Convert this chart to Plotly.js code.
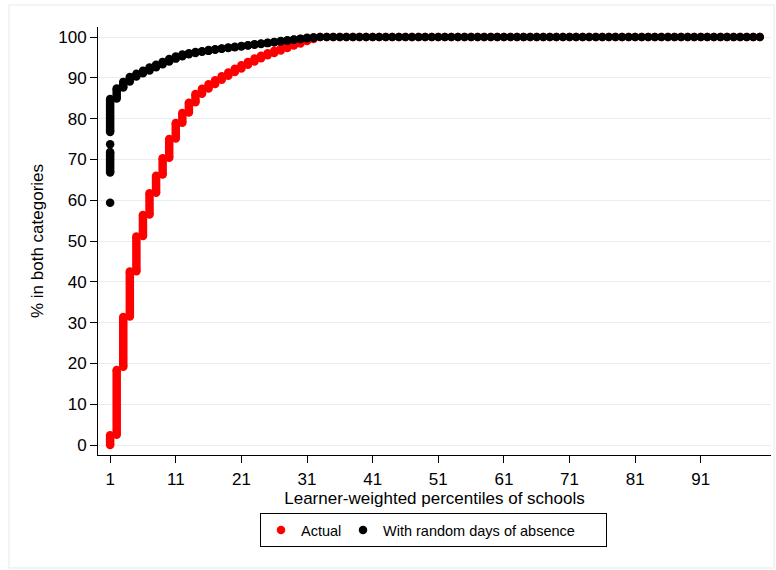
<!DOCTYPE html>
<html><head><meta charset="utf-8">
<script src="https://cdn.plot.ly/plotly-3.0.1.min.js"></script>
<style>html,body{margin:0;padding:0;background:#fff}#chart{width:776px;height:570px}</style>
</head><body><div id="chart"></div>
<script>
// Learner-weighted percentiles (x categories)
const percentiles = [1,2,3,4,5,6,7,8,9,10,11,12,13,14,15,16,17,18,19,20,21,22,23,24,25,26,27,28,29,30,31,32,33,34,35,36,37,38,39,40,41,42,43,44,45,46,47,48,49,50,51,52,53,54,55,56,57,58,59,60,61,62,63,64,65,66,67,68,69,70,71,72,73,74,75,76,77,78,79,80,81,82,83,84,85,86,87,88,89,90,91,92,93,94,95,96,97,98,99,100];

// "Actual": lowest and highest value of the schools in each percentile
const actualLow = [0,2.5,19.2,31.5,42.6,51.2,56.5,61.8,66.3,70.4,75.1,79.0,81.5,84.0,86.1,87.4,88.5,89.5,90.5,91.4,92.3,93.2,94.0,94.8,95.5,96.1,96.7,97.3,97.9,98.4,99.0,99.5,
100,100,100,100,100,100,100,100,100,100,100,100,100,100,100,100,100,100,100,100,100,100,100,100,100,100,100,100,100,100,100,100,100,100,100,100,100,100,100,100,100,100,100,100,100,100,100,100,100,100,100,100,100,100,100,100,100,100,100,100,100,100,100,100,100,100,100,100];
const actualHigh = [2.4,18.4,31.4,42.5,51.1,56.4,61.7,66.0,70.3,75.0,78.9,81.4,83.9,86.0,87.3,88.4,89.4,90.4,91.3,92.2,93.1,93.9,94.7,95.4,96.0,96.6,97.2,97.8,98.4,98.9,99.4,99.9,
100,100,100,100,100,100,100,100,100,100,100,100,100,100,100,100,100,100,100,100,100,100,100,100,100,100,100,100,100,100,100,100,100,100,100,100,100,100,100,100,100,100,100,100,100,100,100,100,100,100,100,100,100,100,100,100,100,100,100,100,100,100,100,100,100,100,100,100];

// "With random days of absence": clusters (percentile 1 has several separate groups)
const randomX = [1,1,1,1,2,3,4,5,6,7,8,9,10,11,12,13,14,15,16,17,18,19,20,21,22,23,24,25,26,27,28,29,30,31,32,33,34,35,36,37,38,39,40,41,42,43,44,45,46,47,48,49,50,51,52,53,54,55,56,57,58,59,60,61,62,63,64,65,66,67,68,69,70,71,72,73,74,75,76,77,78,79,80,81,82,83,84,85,86,87,88,89,90,91,92,93,94,95,96,97,98,99,100];
const randomLow = [59.4,66.8,73.7,76.7,84.9,87.6,89.1,90.3,91.1,91.8,92.6,93.3,94.0,94.7,95.3,95.8,96.1,96.4,96.6,96.9,97.1,97.3,97.5,97.7,97.9,98.1,98.3,98.5,98.7,98.9,99.1,99.3,99.5,99.7,99.8,
100,100,100,100,100,100,100,100,100,100,100,100,100,100,100,100,100,100,100,100,100,100,100,100,100,100,100,100,100,100,100,100,100,100,100,100,100,100,100,100,100,100,100,100,100,100,100,100,100,100,100,100,100,100,100,100,100,100,100,100,100,100,100,100,100,100,100,100];
const randomHigh = [59.4,71.8,73.7,84.8,87.4,89.0,90.2,91.0,91.7,92.5,93.2,93.9,94.6,95.2,95.7,96.0,96.3,96.5,96.8,97.0,97.2,97.4,97.6,97.8,98.0,98.2,98.4,98.6,98.8,99.0,99.2,99.4,99.6,99.8,99.9,
100,100,100,100,100,100,100,100,100,100,100,100,100,100,100,100,100,100,100,100,100,100,100,100,100,100,100,100,100,100,100,100,100,100,100,100,100,100,100,100,100,100,100,100,100,100,100,100,100,100,100,100,100,100,100,100,100,100,100,100,100,100,100,100,100,100,100,100];

const xTickVals = [1,11,21,31,41,51,61,71,81,91];
const yTickVals = [0,10,20,30,40,50,60,70,80,90,100];
const seriesNames = ['Actual','With random days of absence'];

const MS = 8.5;
function segTrace(xs, lo, hi, color) {
  const x = [], y = [];
  for (let i = 0; i < xs.length; i++) { x.push(xs[i], xs[i], null); y.push(lo[i], hi[i], null); }
  return {type:'scatter', mode:'lines', x, y, connectgaps:false, line:{color, width:MS}, showlegend:false, hoverinfo:'skip'};
}
function ptTrace(xs, lo, hi, color, name, lw) {
  const x = [], y = [];
  for (let i = 0; i < xs.length; i++) { x.push(xs[i]); y.push(lo[i]); if (hi[i] !== lo[i]) { x.push(xs[i]); y.push(hi[i]); } }
  return {type:'scatter', mode:'markers', x, y, name, marker:{color, size:MS}, legendwidth: lw};
}

const data = [
  segTrace(percentiles, actualLow, actualHigh, '#ff0000'),
  ptTrace(percentiles, actualLow, actualHigh, '#ff0000', seriesNames[0], 37),
  segTrace(randomX, randomLow, randomHigh, '#000000'),
  ptTrace(randomX, randomLow, randomHigh, '#000000', seriesNames[1], 218)
];

const L = 98, R = 5, T = 27, B = 115, W = 776, H = 570;
const pw = W - L - R, ph = H - T - B;
const px = v => (v - L) / pw, py = v => (H - B - v) / ph;

const layout = {
  width: W, height: H,
  margin: {l:L, r:R, t:T, b:B, pad:0},
  paper_bgcolor:'#ffffff', plot_bgcolor:'#ffffff',
  font: {family:'"Liberation Sans", Arial, sans-serif', color:'#000', size:17},
  showlegend: true,
  xaxis: {
    range:[-0.85, 101.7], tickmode:'array', tickvals:xTickVals, ticktext:xTickVals.map(String),
    ticks:'outside', ticklen:7, tickcolor:'#000', tickwidth:1, ticklabelstandoff:2,
    showline:true, linecolor:'#000', linewidth:1, showgrid:false, zeroline:false,
    tickfont:{size:17}, automargin:false,
    title:{text:'Learner-weighted percentiles of schools', font:{size:17}, standoff:0}
  },
  yaxis: {
    range:[-2.45, 102.45], tickmode:'array', tickvals:yTickVals, ticktext:yTickVals.map(String),
    ticks:'outside', ticklen:7, tickcolor:'#000', tickwidth:1,
    showline:true, linecolor:'#000', linewidth:1, showgrid:true, gridcolor:'#e6eef0', gridwidth:1, zeroline:false,
    tickfont:{size:17}, automargin:false,
    title:{text:'% in both categories', font:{size:17}, standoff:10}
  },
  legend: {
    orientation:'h', x:px(260), xanchor:'left', y:py(513), yanchor:'top',
    bordercolor:'#000', borderwidth:1, bgcolor:'#fff', font:{size:14.5}
  },
  shapes: [{type:'rect', xref:'paper', yref:'paper', x0:px(9), x1:px(774), y0:py(568), y1:py(5), line:{color:'#e3ebee', width:1}, fillcolor:'rgba(0,0,0,0)', layer:'below'}]
};

Plotly.newPlot('chart', data, layout, {staticPlot:true, displayModeBar:false});
</script>
</body></html>
